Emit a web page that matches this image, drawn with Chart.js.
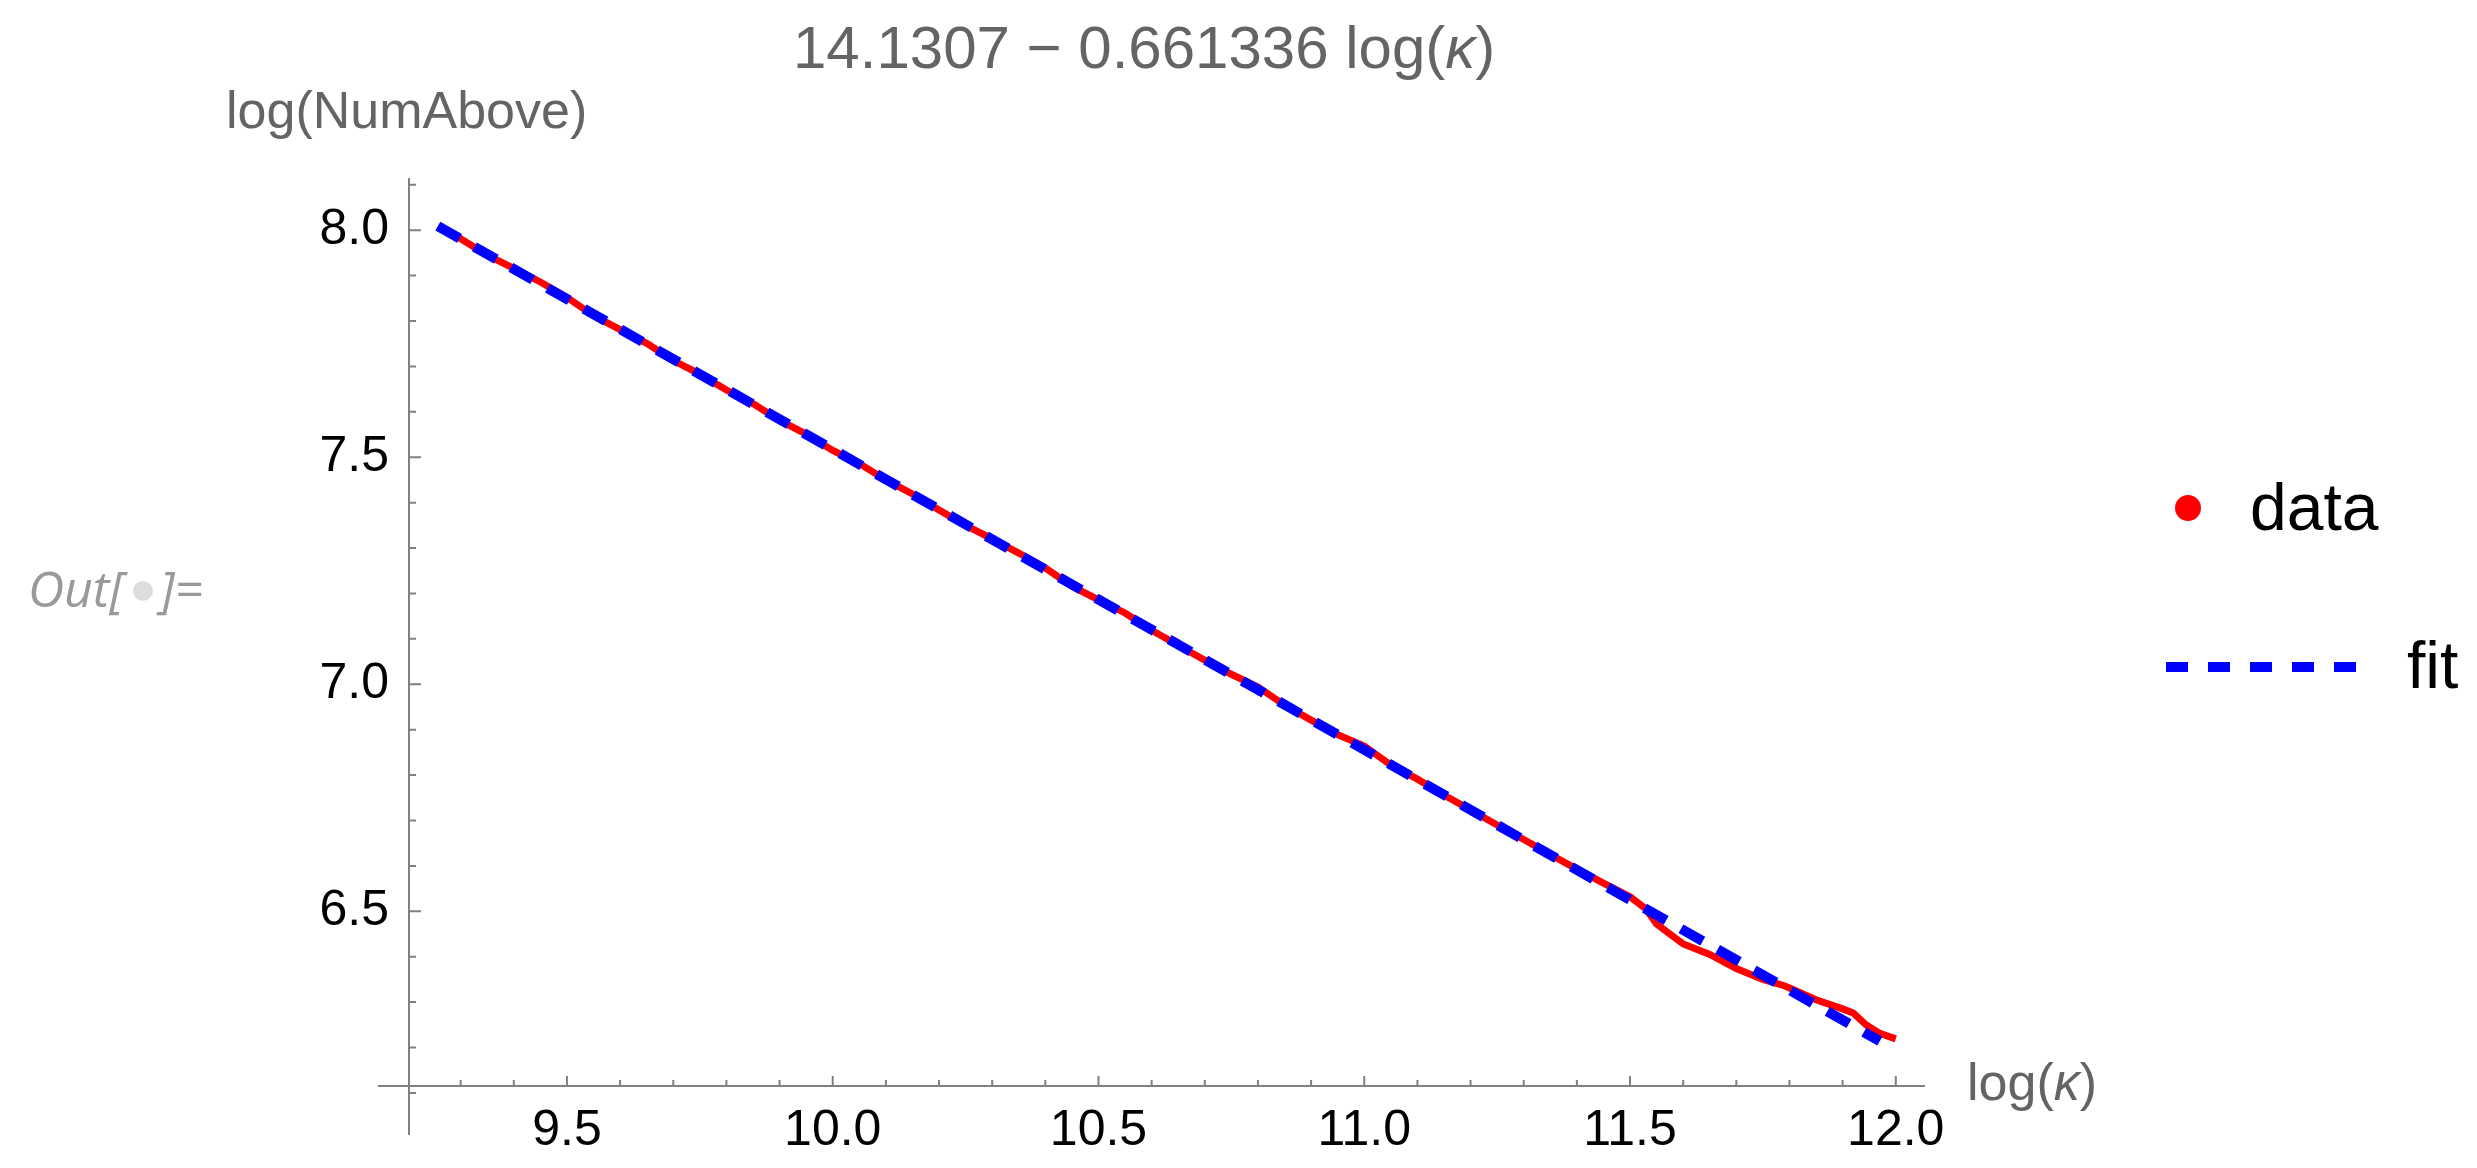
<!DOCTYPE html>
<html>
<head>
<meta charset="utf-8">
<title>log(NumAbove) vs log(κ)</title>
<script src="https://cdn.jsdelivr.net/npm/chart.js@4.4.1/dist/chart.umd.min.js"></script>
<style>
  html, body { margin: 0; padding: 0; background: #fff; }
  canvas { display: block; }
</style>
</head>
<body>
<canvas id="grafico" width="2477" height="1168"></canvas>
<script>
// valores
const logKappa = [9.26, 9.30, 9.35, 9.40, 9.45, 9.50, 9.55, 9.60, 9.65, 9.70, 9.75, 9.80, 9.85, 9.90, 9.95,
  10.00, 10.05, 10.10, 10.15, 10.20, 10.25, 10.30, 10.35, 10.40, 10.45, 10.50, 10.55, 10.60, 10.65, 10.70,
  10.75, 10.80, 10.85, 10.90, 10.95, 11.00, 11.05, 11.10, 11.15, 11.20, 11.25, 11.30, 11.35, 11.40, 11.45,
  11.50, 11.53, 11.55, 11.60, 11.65, 11.70, 11.75, 11.79, 11.80, 11.85, 11.90, 11.92, 11.944, 11.97, 12.00];
const logNumAbove = [8.008, 7.981, 7.945, 7.916, 7.886, 7.852, 7.812, 7.781, 7.751, 7.713, 7.683, 7.648, 7.618, 7.581, 7.551,
  7.515, 7.486, 7.450, 7.419, 7.384, 7.350, 7.320, 7.289, 7.256, 7.216, 7.186, 7.157, 7.119, 7.086, 7.053,
  7.022, 6.994, 6.954, 6.921, 6.889, 6.864, 6.822, 6.791, 6.756, 6.723, 6.690, 6.658, 6.625, 6.593, 6.562,
  6.532, 6.505, 6.472, 6.428, 6.405, 6.374, 6.350, 6.336, 6.331, 6.305, 6.285, 6.276, 6.250, 6.231, 6.219];

// reta ajustada (extremos)
const fitLogKappa = [9.257, 11.97];
const fitLogNumAbove = [8.009, 6.214];

const xTickLabels = [9.5, 10.0, 10.5, 11.0, 11.5, 12.0];
const yTickLabels = [6.5, 7.0, 7.5, 8.0];

const seriesNames = ['data', 'fit'];
const titleText = '14.1307 \u2212 0.661336 log(';
const xAxisTitle = 'log(';
const yAxisTitle = 'log(NumAbove)';

const corDados = '#ff0000';
const corAjuste = '#0000ff';
const corEixo = '#808080';
const corTextoCinza = '#646464';
const fonte = "'Liberation Sans', Arial, sans-serif";

// eixos no estilo do Mathematica (ticks para dentro)
const eixosPlugin = {
  id: 'eixos',
  beforeDatasetsDraw(chart) {
    const ctx = chart.ctx;
    const x = chart.scales.x, y = chart.scales.y;
    const area = chart.chartArea;
    ctx.save();
    ctx.strokeStyle = corEixo;
    ctx.lineWidth = 2;
    ctx.beginPath();
    ctx.moveTo(area.left - 31, area.bottom);
    ctx.lineTo(area.right, area.bottom);
    ctx.moveTo(area.left, area.top);
    ctx.lineTo(area.left, area.bottom + 49);
    // ticks do eixo x
    for (let i = 93; i <= 120; i++) {
      const v = i / 10;
      const px = x.getPixelForValue(v);
      const major = i % 5 === 0;
      ctx.moveTo(px, area.bottom);
      ctx.lineTo(px, area.bottom - (major ? 10 : 6));
    }
    // ticks do eixo y
    for (let i = 61; i <= 81; i++) {
      const v = i / 10;
      const py = y.getPixelForValue(v);
      const major = i % 5 === 0;
      ctx.moveTo(area.left, py);
      ctx.lineTo(area.left + (major ? 12 : 7), py);
    }
    ctx.stroke();
    ctx.restore();
  },
  afterDraw(chart) {
    const ctx = chart.ctx;
    const area = chart.chartArea;
    ctx.save();
    ctx.textBaseline = 'alphabetic';
    ctx.textAlign = 'left';

    // título
    ctx.fillStyle = corTextoCinza;
    ctx.font = '60px ' + fonte;
    let tx = 793;
    ctx.fillText(titleText, tx, 68);
    tx += ctx.measureText(titleText).width;
    ctx.font = 'italic 60px ' + fonte;
    ctx.fillText('\u03ba', tx, 68);
    tx += ctx.measureText('\u03ba').width;
    ctx.font = '60px ' + fonte;
    ctx.fillText(')', tx, 68);

    // títulos dos eixos
    ctx.font = '52px ' + fonte;
    ctx.fillText(yAxisTitle, 226, 128);
    let ax = 1967;
    ctx.fillText(xAxisTitle, ax, 1100);
    ax += ctx.measureText(xAxisTitle).width;
    ctx.font = 'italic 52px ' + fonte;
    ctx.fillText('\u03ba', ax, 1100);
    ax += ctx.measureText('\u03ba').width;
    ctx.font = '52px ' + fonte;
    ctx.fillText(')', ax, 1100);

    // legenda
    const ds = chart.data.datasets;
    ctx.fillStyle = ds[1].borderColor;
    ctx.beginPath();
    ctx.arc(2188, 508, 13, 0, Math.PI * 2);
    ctx.fill();
    ctx.fillStyle = '#000';
    ctx.font = '66px ' + fonte;
    ctx.fillText(ds[1].label, 2250, 530);
    ctx.strokeStyle = ds[0].borderColor;
    ctx.lineWidth = 10;
    ctx.setLineDash([22, 20]);
    ctx.beginPath();
    ctx.moveTo(2166, 667);
    ctx.lineTo(2358, 667);
    ctx.stroke();
    ctx.setLineDash([]);
    ctx.fillText(ds[0].label, 2407, 688);

    // rótulo Out[•]=
    ctx.fillStyle = '#999999';
    ctx.font = "italic 50px 'Open Sans', sans-serif";
    ctx.fillText('Out[', 28, 607);
    ctx.fillText(']=', 160, 607);
    ctx.fillStyle = '#dddddd';
    ctx.beginPath();
    ctx.arc(143, 591, 10, 0, Math.PI * 2);
    ctx.fill();
    ctx.restore();
  }
};

const ctx = document.getElementById('grafico').getContext('2d');
new Chart(ctx, {
  type: 'line',
  data: {
    datasets: [
      {
        label: seriesNames[1],
        data: fitLogKappa.map((v, i) => ({ x: v, y: fitLogNumAbove[i] })),
        borderColor: corAjuste,
        borderWidth: 10,
        borderDash: [25, 17],
        borderCapStyle: 'butt',
        pointRadius: 0,
        fill: false,
        order: 1
      },
      {
        label: seriesNames[0],
        data: logKappa.map((v, i) => ({ x: v, y: logNumAbove[i] })),
        borderColor: corDados,
        backgroundColor: corDados,
        borderWidth: 7,
        pointRadius: 0,
        tension: 0,
        fill: false,
        order: 2
      }
    ]
  },
  options: {
    responsive: false,
    animation: false,
    devicePixelRatio: 1,
    clip: false,
    layout: { padding: { top: 178, right: 552, left: 0, bottom: 0 } },
    plugins: {
      legend: { display: false },
      title: { display: false },
      tooltip: { enabled: false }
    },
    scales: {
      x: {
        type: 'linear',
        min: 9.2028,
        max: 12.055,
        grid: { display: false, drawTicks: false },
        border: { display: false },
        afterBuildTicks: axis => { axis.ticks = xTickLabels.map(v => ({ value: v })); },
        afterFit: scale => { scale.height = 82; },
        ticks: {
          color: '#000',
          padding: 15,
          autoSkip: false,
          maxRotation: 0,
          font: { family: fonte, size: 50 },
          callback: v => Number(v).toFixed(1)
        }
      },
      y: {
        type: 'linear',
        min: 6.1152,
        max: 8.115,
        grid: { display: false, drawTicks: false },
        border: { display: false },
        afterBuildTicks: axis => { axis.ticks = yTickLabels.map(v => ({ value: v })); },
        afterFit: scale => { scale.width = 409; },
        ticks: {
          color: '#000',
          padding: 20,
          autoSkip: false,
          font: { family: fonte, size: 50 },
          callback: v => Number(v).toFixed(1)
        }
      }
    }
  },
  plugins: [eixosPlugin]
});
</script>
</body>
</html>
